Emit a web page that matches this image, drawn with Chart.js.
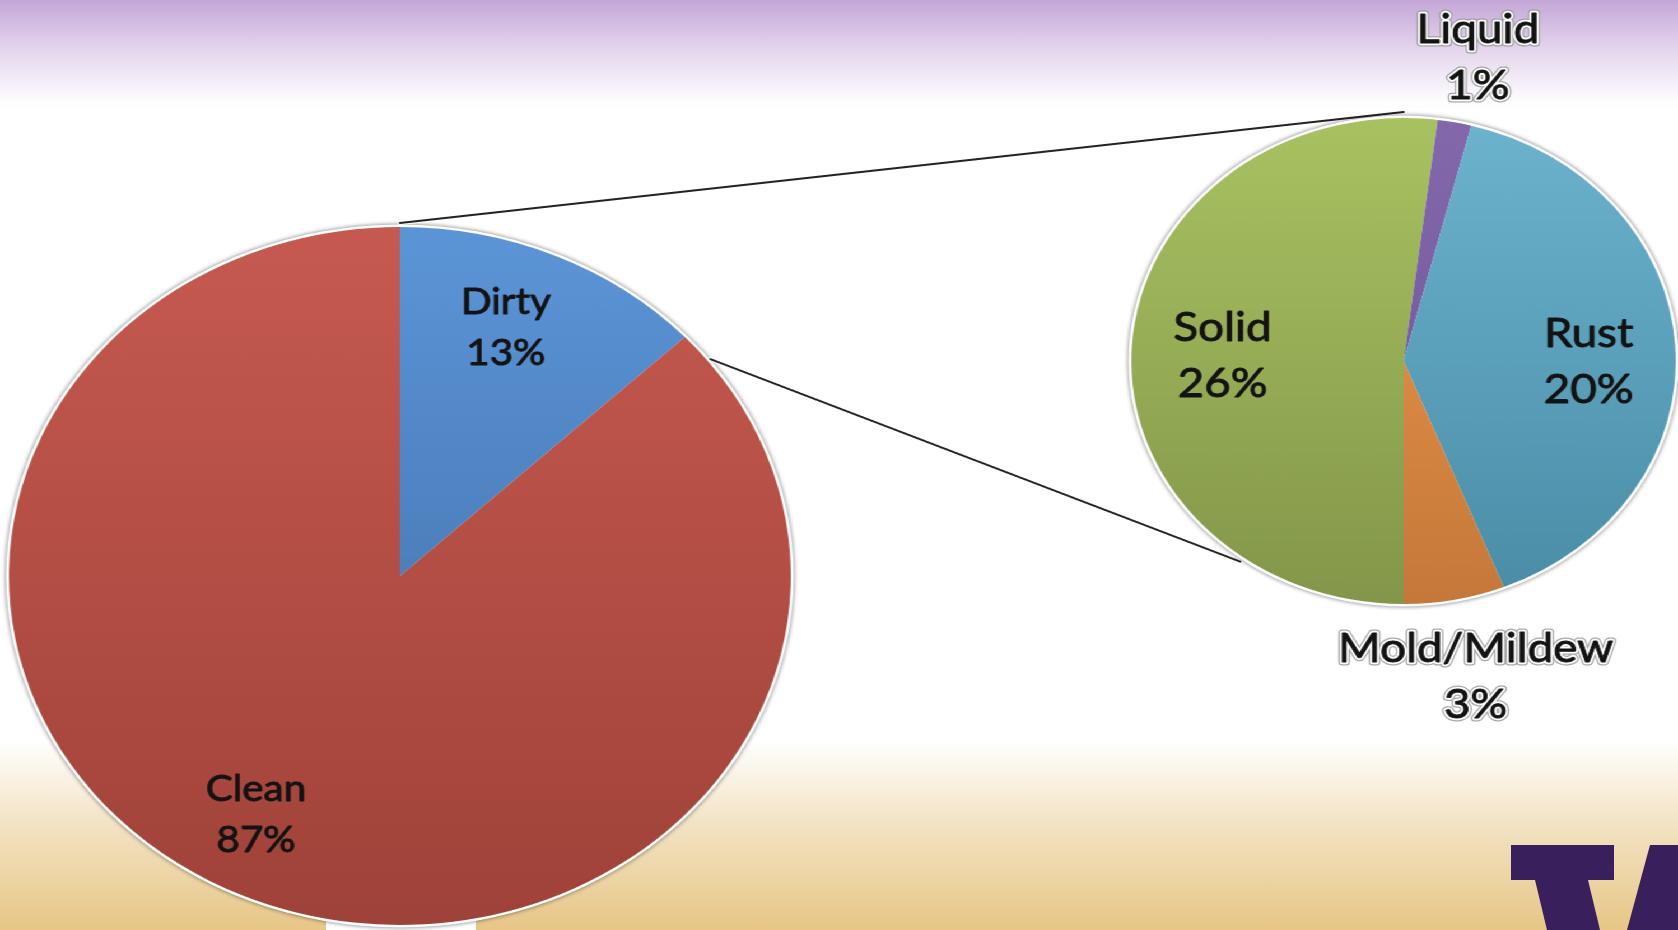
<!DOCTYPE html>
<html>
<head>
<meta charset="utf-8">
<script src="https://cdn.jsdelivr.net/npm/chart.js@4.4.1/dist/chart.umd.min.js"></script>
<style>
  html, body { margin: 0; padding: 0; }
  body {
    width: 1678px; height: 930px; overflow: hidden; position: relative;
    background: linear-gradient(to bottom, #c4a6d7 0px, #e4d6ed 50px, #fdfbfe 100px, #ffffff 110px,
                #ffffff 740px, #f3e4c6 820px, #e7c686 930px);
  }
  /* slide content is stretched horizontally */
  #stage { position: absolute; left: 0; top: 0; width: 1498px; height: 930px;
           transform-origin: 0 0; transform: scaleX(1.12016); }
  #stage canvas { position: absolute; left: 0; top: 0; }
  #plotBg { position: absolute; left: 326px; top: 918px; width: 150px; height: 12px; background: #fff; }
  #logo { position: absolute; left: 0; top: 0; }
</style>
</head>
<body>
<div id="plotBg"></div>
<svg id="logo" width="1678" height="930">
  <polygon fill="#3a1f5d" points="1511,845 1614,845 1614,880 1588,880 1600,930 1547,930 1535,880 1511,880"/>
  <polygon fill="#3a1f5d" points="1650,845 1678,845 1678,930 1627,930"/>
</svg>
<div id="stage">
  <canvas id="mainPie" width="1498" height="930"></canvas>
  <canvas id="detailPie" width="1498" height="930"></canvas>
</div>
<script>
const STAGE_W = 1498, STAGE_H = 930;

// data
const mainLabels = ["Dirty", "Clean"];
const mainValues = [13, 87];
const detailLabels = ["Solid", "Liquid", "Rust", "Mold/Mildew"];
const detailValues = [26, 1, 20, 3];

// [top, bottom] gradient colours per slice
const mainColors = [["#5c95d7", "#3c68a0"], ["#c65a50", "#9f4239"]];
const detailColors = [["#a8c261", "#83964a"], ["#8468ad", "#6a5290"],
                      ["#6cb3ce", "#4a8ca6"], ["#f29b4b", "#c4783a"]];

// pie placement (stage pixels)
const mainPlace = { cx: 357, cy: 576, r: 349 };
const detailPlace = { cx: 1253, cy: 361, r: 243 };

// label centres, in radius units from the pie centre
const mainLabelPos = [[0.271, -0.715], [-0.368, 0.681]];
const detailLabelPos = [[-0.665, -0.029], [0.273, -1.255], [0.68, -0.004], [0.265, 1.292]];

function padFor(p) {
  return { left: p.cx - p.r, top: p.cy - p.r, right: STAGE_W - p.cx - p.r, bottom: STAGE_H - p.cy - p.r };
}

function sliceFill(colors) {
  return ctx => {
    const area = ctx.chart.chartArea;
    const pair = colors[ctx.dataIndex];
    if (!area) return pair[0];
    const g = ctx.chart.ctx.createLinearGradient(0, area.top, 0, area.bottom);
    g.addColorStop(0, pair[0]);
    g.addColorStop(1, pair[1]);
    return g;
  };
}

// soft white rim with a grey edge behind each pie
const rimPlugin = {
  id: "rim",
  beforeDatasetsDraw(chart) {
    const arc = chart.getDatasetMeta(0).data[0];
    const c = chart.ctx;
    c.save();
    c.shadowColor = "rgba(0,0,0,0.55)";
    c.shadowBlur = 4;
    c.fillStyle = "#ffffff";
    c.beginPath();
    c.arc(arc.x, arc.y, arc.outerRadius + 2.5, 0, Math.PI * 2);
    c.fill();
    c.restore();
  }
};

// "Name" / "NN%" two-line labels
const sliceText = {
  id: "sliceText",
  afterDatasetsDraw(chart, args, opts) {
    const meta = chart.getDatasetMeta(0);
    const labels = chart.data.labels;
    const values = chart.data.datasets[0].data;
    const c = chart.ctx;
    c.save();
    c.font = opts.size + "px Lato";
    c.textAlign = "center";
    c.textBaseline = "alphabetic";
    c.lineJoin = "round";
    meta.data.forEach((arc, i) => {
      const [dx, dy] = opts.positions[i];
      const x = arc.x + dx * arc.outerRadius;
      const y = arc.y + dy * arc.outerRadius;
      [labels[i], values[i] + "%"].forEach((t, k) => {
        const ty = y + (k - 0.5) * opts.gap + opts.size * 0.358;
        if (opts.halo[i]) {
          c.strokeStyle = "rgba(150,150,150,0.85)";
          c.lineWidth = 7;
          c.strokeText(t, x, ty);
          c.strokeStyle = "#ffffff";
          c.lineWidth = 4.5;
          c.strokeText(t, x, ty);
        }
        c.fillStyle = "#131313";
        c.fillText(t, x, ty);
        // a touch heavier than plain regular
        c.strokeStyle = "#131313";
        c.lineWidth = 0.9;
        c.strokeText(t, x, ty);
      });
    });
    c.restore();
  }
};

function pieOptions(place, rotation, labelOpts) {
  return {
    responsive: false,
    animation: false,
    events: [],
    rotation: rotation,
    layout: { padding: padFor(place) },
    plugins: {
      legend: { display: false },
      tooltip: { enabled: false },
      sliceText: labelOpts
    }
  };
}

const mainChart = new Chart(document.getElementById("mainPie"), {
  type: "pie",
  data: {
    labels: mainLabels,
    datasets: [{ data: mainValues, backgroundColor: sliceFill(mainColors), borderWidth: 0, hoverOffset: 0 }]
  },
  options: pieOptions(mainPlace, 0, { positions: mainLabelPos, size: 36, gap: 51, halo: [false, false] }),
  plugins: [rimPlugin, sliceText]
});

// lines joining the Dirty slice to the breakdown pie
function onRim(arc, angle, extra) {
  const r = arc.outerRadius + extra;
  return [arc.x + r * Math.cos(angle), arc.y + r * Math.sin(angle)];
}

const connectors = {
  id: "connectors",
  beforeDatasetsDraw(chart) {
    const dirty = mainChart.getDatasetMeta(0).data[0];
    const sub = chart.getDatasetMeta(0).data[0];
    const top = -Math.PI / 2;
    const lines = [
      [onRim(dirty, dirty.startAngle, 4), onRim(sub, top, 6)],
      [onRim(dirty, dirty.endAngle + 0.09, 3), onRim(sub, top + 216 * Math.PI / 180, 5)]
    ];
    const c = chart.ctx;
    c.save();
    c.lineCap = "round";
    lines.forEach(([a, b]) => {
      c.beginPath();
      c.moveTo(a[0], a[1]);
      c.lineTo(b[0], b[1]);
      c.strokeStyle = "rgba(255,255,255,0.9)";
      c.lineWidth = 4;
      c.stroke();
      c.strokeStyle = "#222222";
      c.lineWidth = 2;
      c.stroke();
    });
    c.restore();
  }
};

const detailChart = new Chart(document.getElementById("detailPie"), {
  type: "pie",
  data: {
    labels: detailLabels,
    datasets: [{ data: detailValues, backgroundColor: sliceFill(detailColors), borderWidth: 0, hoverOffset: 0 }]
  },
  options: pieOptions(detailPlace, 180, { positions: detailLabelPos, size: 41, gap: 56, halo: [false, true, false, true] }),
  plugins: [connectors, rimPlugin, sliceText]
});
</script>
</body>
</html>
